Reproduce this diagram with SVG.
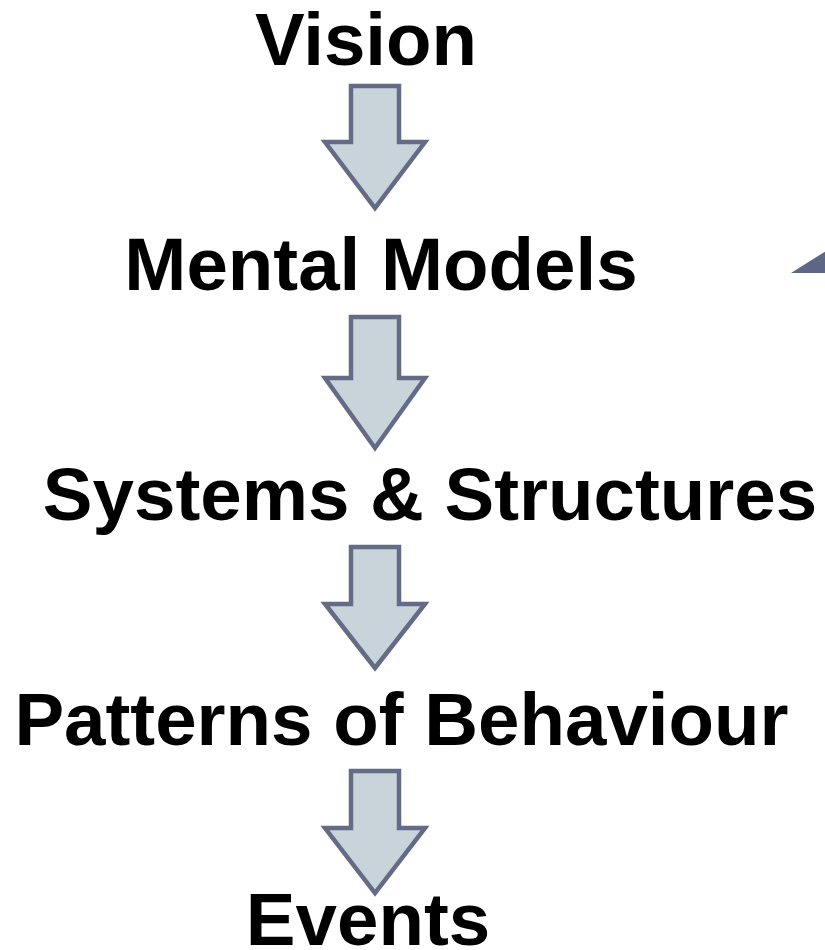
<svg xmlns="http://www.w3.org/2000/svg" width="825" height="950" viewBox="0 0 825 950">
<style>
.lbl{font-family:"Liberation Sans",Arial,sans-serif;font-weight:bold;font-size:74.5px;fill:#000;text-anchor:middle}
.arr{fill:#c8d3da;stroke:#646b87;stroke-width:4.5;stroke-linejoin:miter}
</style>
<rect width="825" height="950" fill="#fff"/>
<g id="connectors">
<path class="arr" d="M351,86 H399 V142 H425 L375,208 L325,142 H351 Z"/>
<path class="arr" d="M351,317 H399 V378 H425 L375,448 L325,378 H351 Z"/>
<path class="arr" d="M351,547 H399 V604 H425 L375,668 L325,604 H351 Z"/>
<path class="arr" d="M351,771 H399 V828 H425 L375,893 L325,828 H351 Z"/>
</g>
<polygon points="791,273 826,251 826,273" fill="#5e6687"/>
<g id="vision"><text class="lbl" x="366" y="65">Vision</text></g>
<g id="mental-models"><text class="lbl" x="381" y="290">Mental Models</text></g>
<g id="systems"><text class="lbl" x="430" y="520">Systems &amp; Structures</text></g>
<g id="patterns"><text class="lbl" x="401.5" y="745">Patterns of Behaviour</text></g>
<g id="events"><text class="lbl" x="368" y="945">Events</text></g>
</svg>
